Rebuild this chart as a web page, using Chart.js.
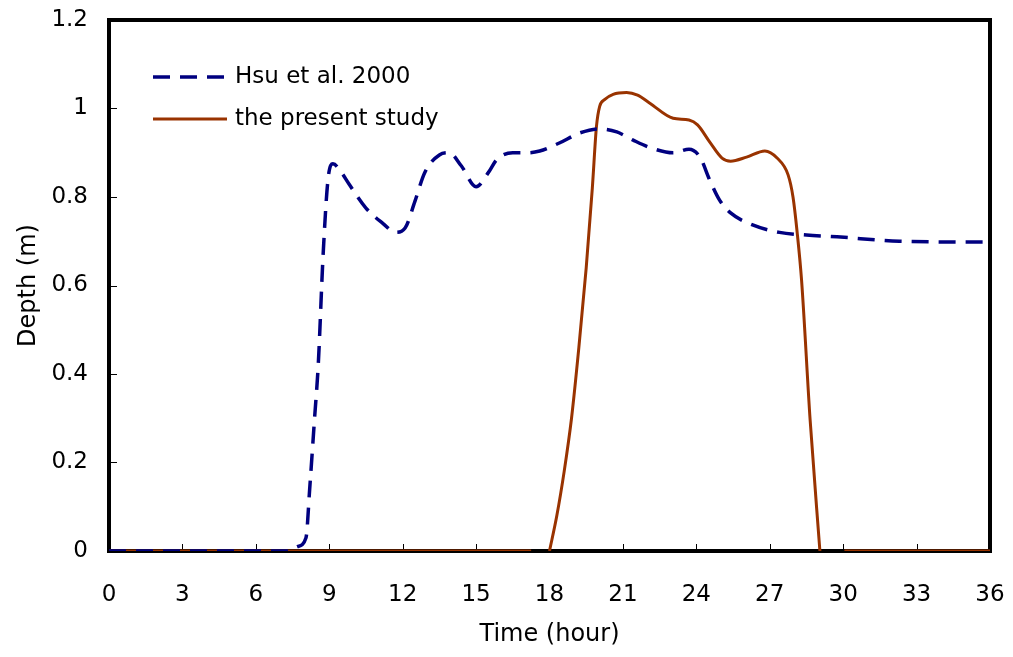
<!DOCTYPE html>
<html><head><meta charset="utf-8">
<script src="https://cdn.jsdelivr.net/npm/chart.js@4/dist/chart.umd.min.js"></script>
<style>html,body{margin:0;padding:0;background:#fff}#wrap{width:1013px;height:657px}</style>
</head><body><div id="wrap"><canvas id="c" width="1013" height="657"></canvas></div>
<script>
const seriesNames = ["Hsu et al. 2000", "the present study"];
const xTickLabels = [0,3,6,9,12,15,18,21,24,27,30,33,36];
const yTickLabels = [0,0.2,0.4,0.6,0.8,1,1.2];
const hsuHours = [0,7.3,7.7,8.05,8.2,8.4,8.55,8.75,8.95,9.15,9.5,9.8,10.5,11.2,11.7,12.1,12.5,12.9,13.5,13.9,14.4,15.0,15.5,15.85,16.5,17.1,17.6,18.4,19.25,20.05,20.75,21.4,22.2,23.05,23.7,24.15,24.55,24.95,25.4,26.3,27.4,28.5,29.75,32.3,36];
const hsuDepth = [0,0,0.01,0.03,0.14,0.30,0.42,0.67,0.84,0.875,0.855,0.83,0.775,0.74,0.72,0.73,0.79,0.855,0.895,0.90,0.87,0.823,0.855,0.885,0.90,0.90,0.904,0.922,0.945,0.954,0.947,0.929,0.91,0.90,0.908,0.89,0.838,0.793,0.764,0.737,0.72,0.714,0.71,0.70,0.698];
const presentHours = [0,17.25,17.6,18.0,18.3,18.6,18.9,19.2,19.5,19.75,19.92,20.05,20.25,20.6,21.15,21.6,22.1,23.05,23.7,24.05,24.55,25.05,25.4,26.05,26.8,27.3,27.75,27.95,28.12,28.3,28.65,29.05,29.5,30.05,36];
const presentDepth = [0,0,null,0,0.08,0.18,0.30,0.46,0.64,0.82,0.96,1.005,1.02,1.032,1.036,1.03,1.012,0.978,0.974,0.963,0.924,0.888,0.881,0.89,0.904,0.888,0.85,0.80,0.72,0.612,0.296,0,null,0,0];

const FONT = "'DejaVu Sans'";
const BLUE = "#000080", RED = "#993300";
const toPts = (xs, ys) => xs.map((x, i) => ({x: x, y: ys[i]}));

const framePlugin = {
  id: 'frame',
  beforeDatasetsDraw(chart) {
    const {ctx, chartArea: a, scales} = chart;
    ctx.save();
    ctx.strokeStyle = '#000';
    ctx.lineWidth = 1;
    xTickLabels.forEach(v => {
      const px = Math.round(scales.x.getPixelForValue(v)) + 0.5;
      ctx.beginPath(); ctx.moveTo(px, a.bottom); ctx.lineTo(px, a.bottom - 7); ctx.stroke();
    });
    yTickLabels.forEach(v => {
      const py = Math.round(scales.y.getPixelForValue(v)) + 0.5;
      ctx.beginPath(); ctx.moveTo(a.left, py); ctx.lineTo(a.left + 8, py); ctx.stroke();
    });
    ctx.lineWidth = 4;
    ctx.strokeRect(a.left, a.top, a.right - a.left, a.bottom - a.top);
    ctx.restore();
  },
  afterDraw(chart) {
    const {ctx} = chart;
    ctx.save();
    ctx.font = "23px " + FONT;
    ctx.textBaseline = 'middle';
    ctx.fillStyle = '#000';
    const rows = [{y: 77, ds: chart.data.datasets[0]}, {y: 119, ds: chart.data.datasets[1]}];
    rows.forEach(r => {
      ctx.strokeStyle = r.ds.borderColor;
      ctx.lineWidth = r.ds.borderWidth;
      ctx.setLineDash(r.ds.borderDash || []);
      ctx.beginPath(); ctx.moveTo(153, r.y); ctx.lineTo(227, r.y); ctx.stroke();
      ctx.setLineDash([]);
      ctx.fillText(r.ds.label, 235, r.y);
    });
    ctx.restore();
  }
};

new Chart(document.getElementById('c'), {
  type: 'line',
  data: {
    datasets: [
      {label: seriesNames[0], data: toPts(hsuHours, hsuDepth), borderColor: BLUE, borderWidth: 3.5, borderDash: [17, 10], pointRadius: 0, cubicInterpolationMode: 'monotone', fill: false},
      {label: seriesNames[1], data: toPts(presentHours, presentDepth), borderColor: RED, borderWidth: 3, pointRadius: 0, cubicInterpolationMode: 'monotone', fill: false, spanGaps: false}
    ]
  },
  options: {
    responsive: false,
    animation: false,
    layout: {padding: {left: 0, right: 23, top: 20, bottom: 0}},
    plugins: {legend: {display: false}, tooltip: {enabled: false}},
    scales: {
      x: {
        type: 'linear', min: 0, max: 36,
        afterBuildTicks: s => { s.ticks = xTickLabels.map(v => ({value: v})); },
        afterFit: s => { s.height = 106; s.paddingLeft = 0; s.paddingRight = 0; },
        grid: {display: false, drawTicks: false},
        border: {display: false},
        ticks: {color: '#000', font: {family: FONT, size: 23}, padding: 30, maxRotation: 0},
        title: {display: true, text: 'Time (hour)', color: '#000', font: {family: FONT, size: 24}, padding: {top: 0, bottom: 8}}
      },
      y: {
        type: 'linear', min: 0, max: 1.2,
        afterBuildTicks: s => { s.ticks = yTickLabels.map(v => ({value: v})); },
        afterFit: s => { s.width = 109; s.paddingTop = 0; s.paddingBottom = 0; },
        grid: {display: false, drawTicks: false},
        border: {display: false},
        ticks: {color: '#000', font: {family: FONT, size: 23}, padding: 21, callback: v => String(v)},
        title: {display: true, text: 'Depth (m)', color: '#000', font: {family: FONT, size: 24}, padding: {top: 14, bottom: 0}}
      }
    }
  },
  plugins: [framePlugin]
});
</script></body></html>
